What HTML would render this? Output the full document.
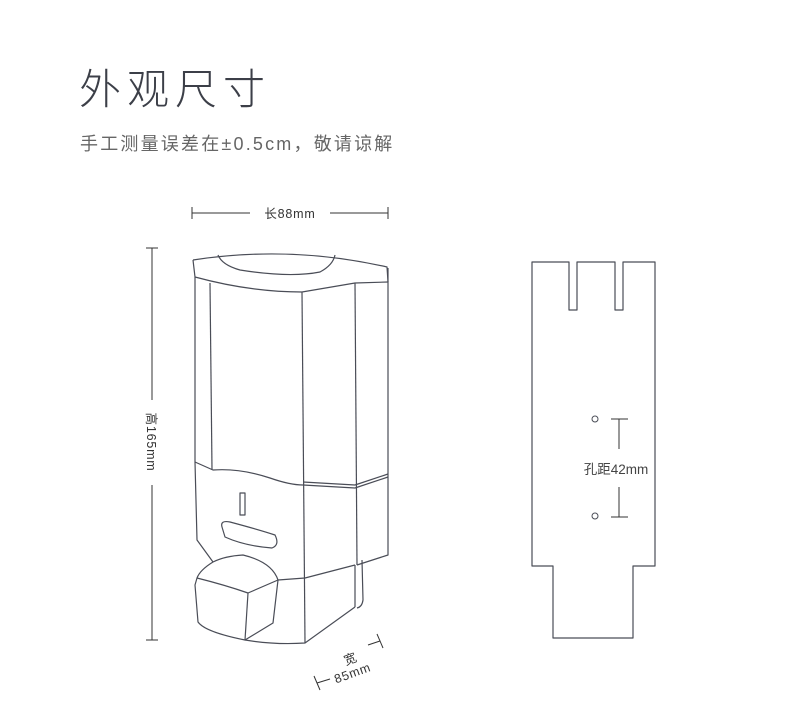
<!DOCTYPE html>
<html><head><meta charset="utf-8"><style>
html,body{margin:0;padding:0;background:#fff;width:790px;height:712px;overflow:hidden;position:relative;font-family:"Liberation Sans","Noto Sans CJK SC",sans-serif}
.t{position:absolute;white-space:nowrap}
</style></head><body>
<div class="t" style="left:79px;top:64px;font-size:42px;letter-spacing:6px;color:#3c3f48;font-weight:300;line-height:52px">外观尺寸</div>
<div class="t" style="left:80px;top:132px;font-size:18px;color:#666;line-height:24px;letter-spacing:2.2px">手工测量误差在±0.5cm，敬请谅解</div>
<svg width="790" height="712" style="position:absolute;left:0;top:0" fill="none" stroke="#4a4d57" stroke-width="1.2" stroke-linejoin="round">
<g stroke="#333" stroke-width="1">
<line x1="192" y1="213" x2="250" y2="213"/><line x1="330" y1="213" x2="388" y2="213"/>
<line x1="192" y1="207" x2="192" y2="219"/><line x1="388" y1="207" x2="388" y2="219"/>
<line x1="152" y1="248" x2="152" y2="400"/><line x1="152" y1="485" x2="152" y2="640"/>
<line x1="146" y1="248" x2="158" y2="248"/><line x1="146" y1="640" x2="158" y2="640"/>
<line x1="317" y1="683" x2="330" y2="679"/><line x1="314" y1="676" x2="320" y2="690"/>
<line x1="368" y1="645" x2="380" y2="641"/><line x1="377" y1="634" x2="383" y2="648"/>
</g>
<g fill="#333" stroke="none" font-family="Liberation Sans,Noto Sans CJK SC,sans-serif" text-anchor="middle" font-size="12.5" letter-spacing="0.8">
<text x="290" y="218">长88mm</text>
<text transform="translate(147,442) rotate(90)">高165mm</text>
<text transform="translate(352,663) rotate(-20)">宽</text>
<text transform="translate(354,677) rotate(-20)">85mm</text>
</g>
<path d="M193 260 Q290 245 387 267 L388 282"/>
<path d="M218 255 Q222 265 240 270 Q290 278 320 272 Q333 265 335 255"/>
<path d="M193 260 L195 277 Q250 292 302 292 L355 283 L388 282"/>
<path d="M195 277 L195 462 L197 540 L213 562"/>
<path d="M210 283 L212 470"/>
<path d="M302 292 L305 643"/>
<path d="M355 283 L357 565"/>
<path d="M388 268 L388 555 L357 565"/>
<path d="M195 462 L213 470 Q240 468 270 478 Q290 485 303 485 L355 488 L388 477"/>
<path d="M303 482 L355 485 L388 474"/>
<rect x="240" y="493" width="5" height="22"/>
<path d="M222 527 Q220 520 230 522 Q260 530 275 535 Q280 545 272 548 Q245 546 225 537 Z"/>
<path d="M197 578 L195 585 L198 622 Q205 632 245 640 L273 623 L278 580 Q272 562 243 555 Q225 556 213 562 Q200 570 197 578 Z"/>
<path d="M197 578 Q225 585 248 593 L278 580"/>
<path d="M248 593 L245 640"/>
<path d="M245 640 Q275 645 305 643 L355 607"/>
<path d="M278 580 L305 578 L355 565"/>
<path d="M355 565 L355 607"/>
<path d="M362 560 L363 600 Q362 607 357 608"/>
<path d="M532 262 L569 262 L569 310 L577 310 L577 262 L615 262 L615 310 L623 310 L623 262 L655 262 L655 566 L633 566 L633 638 L553 638 L553 566 L532 566 Z"/>
<circle cx="595" cy="419" r="3" stroke-width="1"/>
<circle cx="595" cy="516" r="3" stroke-width="1"/>
<g stroke="#333" stroke-width="1">
<line x1="611" y1="419" x2="628" y2="419"/><line x1="619" y1="419" x2="619" y2="449"/>
<line x1="611" y1="517" x2="628" y2="517"/><line x1="619" y1="487" x2="619" y2="517"/>
</g>
<text x="616" y="474" font-size="13.5" fill="#444" stroke="none" text-anchor="middle" font-family="Liberation Sans,Noto Sans CJK SC,sans-serif">孔距42mm</text>
</svg>
</body></html>
